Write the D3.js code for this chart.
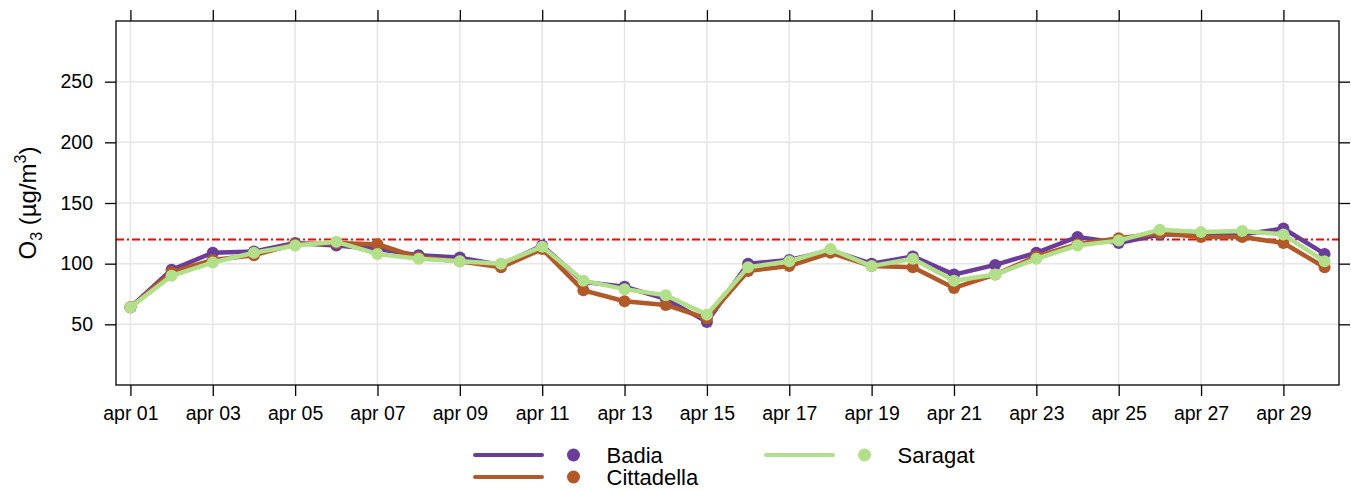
<!DOCTYPE html>
<html><head><meta charset="utf-8">
<script src="https://cdn.jsdelivr.net/npm/d3@7"></script>
<style>body{margin:0;background:#fff}svg{display:block}text{font-family:"Liberation Sans",Arial,sans-serif}</style>
</head><body><svg id="c" width="1351" height="490"></svg>
<script>
const days = d3.range(1, 31);
const badia = [64,95,109,110,117,115,112,107,105,99,115,85,81,71,52,100,103,111,100,106,91,99,109,122,117,124,124,124,129,108];
const cittadella = [64,93,103,107,116,117,116,105,102,97,112,78,69,66,55,94,98,109,98,97,80,91,106,116,121,125,122,122,117,97];
const saragat = [64,90,101,109,115,118,108,104,102,100,114,86,79,74,58,97,102,112,98,104,86,91,104,115,119,128,126,127,124,102];
const seriesNames = ["Badia","Cittadella","Saragat"];
const seriesColors = ["#6a3d9a","#b15928","#b2df8a"];
const yTicks = [50,100,150,200,250];
const xTickDays = d3.range(1, 30, 2);
const limit = 120;

const svg = d3.select("#c");
const L = 116, R = 1339, T = 21, B = 385;
const x = d3.scaleLinear().domain([0.65, 30.35]).range([L, R]);
const y = d3.scaleLinear().domain([0, 300]).range([B, T]);
const lbl = d => "apr " + String(d).padStart(2, "0");

// grid
const g = svg.append("g");
g.selectAll(".gy").data(yTicks).join("line").attr("x1", L).attr("x2", R)
  .attr("y1", d => y(d)).attr("y2", d => y(d)).attr("stroke", "#e6e6e6").attr("stroke-width", 1.5);
g.selectAll(".gx").data(xTickDays).join("line").attr("y1", T).attr("y2", B)
  .attr("x1", d => x(d)).attr("x2", d => x(d)).attr("stroke", "#e6e6e6").attr("stroke-width", 1.5);

// limit line
svg.append("line").attr("x1", L).attr("x2", R).attr("y1", y(limit)).attr("y2", y(limit))
  .attr("stroke", "#ff0000").attr("stroke-width", 2).attr("stroke-dasharray", "8,3,2,3");

// series
const data = [badia, cittadella, saragat];
const line = d3.line().x((d, i) => x(days[i])).y(d => y(d));
data.forEach((vals, k) => {
  svg.append("path").datum(vals).attr("d", line).attr("fill", "none")
    .attr("stroke", seriesColors[k]).attr("stroke-width", 4.5).attr("stroke-linejoin", "round");
  svg.append("g").selectAll("circle").data(vals).join("circle")
    .attr("cx", (d, i) => x(days[i])).attr("cy", d => y(d)).attr("r", 6).attr("fill", seriesColors[k]);
});

// frame
svg.append("rect").attr("x", L).attr("y", T).attr("width", R - L).attr("height", B - T)
  .attr("fill", "none").attr("stroke", "#000").attr("stroke-width", 1.3);

// axes
const axL = svg.append("g").attr("transform", `translate(${L},0)`)
  .call(d3.axisLeft(y).tickValues(yTicks).tickSize(11).tickPadding(12));
const axR = svg.append("g").attr("transform", `translate(${R},0)`)
  .call(d3.axisRight(y).tickValues(yTicks).tickSize(11).tickFormat(""));
const axB = svg.append("g").attr("transform", `translate(0,${B})`)
  .call(d3.axisBottom(x).tickValues(xTickDays).tickSize(11).tickPadding(10).tickFormat(lbl));
const axT = svg.append("g").attr("transform", `translate(0,${T})`)
  .call(d3.axisTop(x).tickValues(xTickDays).tickSize(11).tickFormat(""));
[axL, axR, axB, axT].forEach(a => {
  a.select(".domain").remove();
  a.selectAll(".tick line").attr("stroke", "#000").attr("stroke-width", 1.3);
  a.selectAll("text").attr("font-size", 19.5).attr("fill", "#000").attr("font-family", '"Liberation Sans",Arial,sans-serif');
});

// y label
const yl = svg.append("text").attr("transform", "translate(36,203) rotate(-90)")
  .attr("text-anchor", "middle").attr("font-size", 24);
yl.append("tspan").text("O");
yl.append("tspan").attr("font-size", 16).attr("dy", 6).text("3");
yl.append("tspan").attr("dy", -6).text(" (µg/m");
yl.append("tspan").attr("font-size", 16).attr("dy", -10).text("3");
yl.append("tspan").attr("dy", 10).text(")");

// legend
const legPos = [[475, 455], [475, 477], [766, 455]];
seriesNames.forEach((n, k) => {
  const [lx, ly] = legPos[k];
  svg.append("line").attr("x1", lx).attr("x2", lx + 67).attr("y1", ly).attr("y2", ly)
    .attr("stroke", seriesColors[k]).attr("stroke-width", 4).attr("stroke-linecap", "round");
  svg.append("circle").attr("cx", lx + 98.5).attr("cy", ly).attr("r", 6.5).attr("fill", seriesColors[k]);
  svg.append("text").attr("x", lx + 131.5).attr("y", ly + 7.5).attr("font-size", 22).text(n);
});
</script></body></html>
